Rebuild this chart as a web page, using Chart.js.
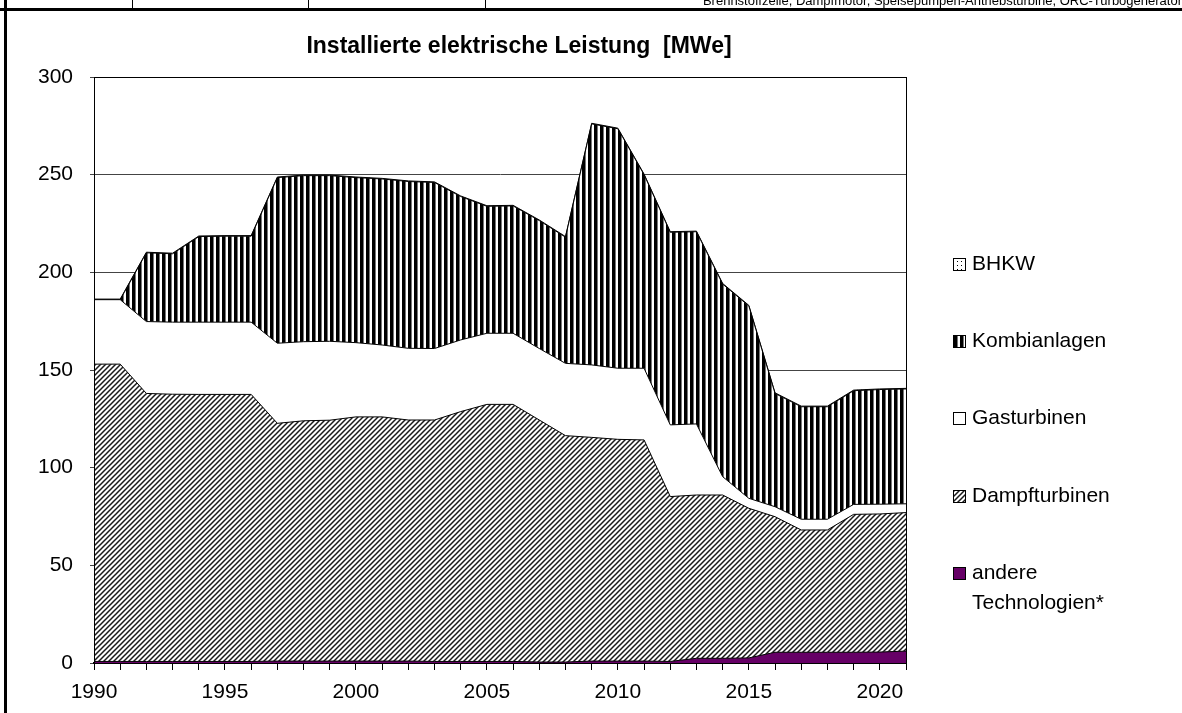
<!DOCTYPE html>
<html lang="de">
<head>
<meta charset="utf-8">
<title>Installierte elektrische Leistung</title>
<script src="https://cdn.jsdelivr.net/npm/chart.js@4/dist/chart.umd.min.js"></script>
<style>
  html, body { margin: 0; padding: 0; background: #fff; }
  #wrap { width: 1182px; height: 713px; }
</style>
</head>
<body>
<div id="wrap"><canvas id="chart" width="1182" height="713"></canvas></div>
<script>
// Jahre und installierte Leistung je Technologie in MWe
const years = [1990, 1991, 1992, 1993, 1994, 1995, 1996, 1997, 1998, 1999,
  2000, 2001, 2002, 2003, 2004, 2005, 2006, 2007, 2008, 2009,
  2010, 2011, 2012, 2013, 2014, 2015, 2016, 2017, 2018, 2019, 2020, 2021];

const andere = [0.8, 0.8, 0.8, 0.8, 0.8, 0.8, 0.8, 1, 1, 1,
  1, 1, 1, 0.8, 0.8, 0.8, 0.8, 0.5, 0.5, 1,
  1, 1, 0.8, 2.4, 2.4, 2.6, 5.5, 5.5, 5.5, 5.5, 5.6, 6.1];

const dampfturbinen = [152.2, 152.2, 137.2, 136.8, 136.7, 136.7, 136.7, 121.7, 123, 123.3,
  125, 125, 123.4, 123.6, 127.9, 131.6, 131.6, 123.9, 115.9, 114.5,
  113.5, 113.2, 84.4, 83.6, 83.6, 76.6, 69.4, 62.6, 62.6, 70.6, 70.7, 70.9];

const gasturbinen = [33, 33, 36.8, 36.9, 37, 37, 37, 41, 40.5, 40.4,
  38, 36.8, 36.7, 36.6, 36.7, 36.4, 36.4, 36.6, 37, 37.1,
  36.4, 36.7, 36.7, 36.4, 9.4, 5.1, 5.1, 5.5, 5.5, 5.1, 5, 4.5];

const kombianlagen = [0, 0, 35.2, 35, 43.8, 44, 44, 84.8, 85, 84.8,
  84.5, 85, 85.4, 85, 73.4, 65, 65.2, 65.5, 64.6, 123.4,
  122.6, 99.1, 98.6, 98.4, 98.6, 98.5, 58, 57.6, 57.6, 58.2, 58.7, 58.8];

const bhkw = [0.3, 0.3, 0.3, 0.3, 0.3, 0.3, 0.3, 0.3, 0.3, 0.3,
  0.3, 0.3, 0.3, 0.3, 0.3, 0.3, 0.3, 0.3, 0.3, 0.3,
  0.3, 0.3, 0.3, 0.3, 0.3, 0.3, 0.3, 0.3, 0.3, 0.3, 0.3, 0.3];

const yTicks = [0, 50, 100, 150, 200, 250, 300];

const FONT = '"Liberation Sans", Arial, sans-serif';

// Schraffuren als Canvas-Muster
function makePattern(size, draw) {
  const c = document.createElement('canvas');
  c.width = size; c.height = size;
  const g = c.getContext('2d');
  g.fillStyle = '#fff';
  g.fillRect(0, 0, size, size);
  draw(g, size);
  return g.createPattern(c, 'repeat');
}

const ctx = document.getElementById('chart').getContext('2d');

const hatchDiag = makePattern(5, (g, s) => {
  g.strokeStyle = '#1a1a1a';
  g.lineWidth = 1.5;
  g.beginPath();
  g.moveTo(-1, s + 1); g.lineTo(s + 1, -1);
  g.moveTo(-1, 1); g.lineTo(1, -1);
  g.moveTo(s - 1, s + 1); g.lineTo(s + 1, s - 1);
  g.stroke();
});

const stripesVert = makePattern(6, (g, s) => {
  g.fillStyle = '#000';
  g.fillRect(0, 0, 3, s);
  g.fillStyle = '#777';
  g.fillRect(3, 0, 1, s);
});

const dots = makePattern(4, (g) => {
  g.fillStyle = '#000';
  g.fillRect(1, 1, 1, 1);
});

const series = [
  { label: 'andere Technologien*', data: andere, fill: 'origin', bg: '#660066' },
  { label: 'Dampfturbinen', data: dampfturbinen, fill: '-1', bg: hatchDiag },
  { label: 'Gasturbinen', data: gasturbinen, fill: '-1', bg: '#ffffff' },
  { label: 'Kombianlagen', data: kombianlagen, fill: '-1', bg: stripesVert },
  { label: 'BHKW', data: bhkw, fill: '-1', bg: dots }
];

// Tabellenkopf oberhalb, Titel, Rahmen und Legende
const decorations = {
  id: 'decorations',
  afterDraw(chart) {
    const c = chart.ctx;
    const a = chart.chartArea;
    c.save();

    // Rahmen des Diagrammbereichs
    c.strokeStyle = '#000';
    c.lineWidth = 1;
    c.strokeRect(a.left + 0.5, a.top + 0.5, a.right - a.left, a.bottom - a.top);

    // Tabellenzeile am oberen Rand
    c.fillStyle = '#000';
    c.fillRect(0, 8, 1182, 3);
    c.fillRect(4, 0, 3, 713);
    [132, 308, 485].forEach(x => c.fillRect(x, 0, 1, 8));
    c.font = '13px ' + FONT;
    c.textAlign = 'right';
    c.textBaseline = 'alphabetic';
    c.fillText('Brennstoffzelle, Dampfmotor, Speisepumpen-Antriebsturbine, ORC-Turbogenerator', 1182, 5);

    // Titel
    c.font = 'bold 23px ' + FONT;
    c.textAlign = 'center';
    c.textBaseline = 'middle';
    c.fillText('Installierte elektrische Leistung  [MWe]', 519, 47);

    // Legende, oberster Stapel zuerst
    const items = [
      { lines: ['BHKW'], bg: dots, y: 264 },
      { lines: ['Kombianlagen'], bg: stripesVert, y: 341 },
      { lines: ['Gasturbinen'], bg: '#ffffff', y: 418 },
      { lines: ['Dampfturbinen'], bg: hatchDiag, y: 496 },
      { lines: ['andere', 'Technologien*'], bg: '#660066', y: 573 }
    ];
    c.font = '21px ' + FONT;
    c.textAlign = 'left';
    items.forEach(it => {
      c.fillStyle = it.bg;
      c.fillRect(953, it.y - 6, 13, 13);
      c.strokeStyle = '#000';
      c.lineWidth = 1;
      c.strokeRect(953.5, it.y - 5.5, 12, 12);
      c.fillStyle = '#000';
      it.lines.forEach((t, i) => c.fillText(t, 972, it.y + i * 30));
    });
    c.restore();
  }
};

new Chart(ctx, {
  type: 'line',
  data: {
    labels: years,
    datasets: series.map(s => ({
      label: s.label,
      data: s.data,
      fill: s.fill,
      backgroundColor: s.bg,
      borderColor: '#000',
      borderWidth: 1,
      pointRadius: 0,
      tension: 0
    }))
  },
  options: {
    responsive: false,
    animation: false,
    layout: { padding: { left: 0, top: 77, right: 276, bottom: 0 } },
    plugins: {
      legend: { display: false },
      title: { display: false },
      tooltip: { enabled: false }
    },
    scales: {
      x: {
        type: 'category',
        offset: false,
        border: { color: '#000', width: 2 },
        grid: { drawOnChartArea: false, drawTicks: true, tickLength: 7, color: '#000' },
        ticks: {
          autoSkip: false,
          maxRotation: 0,
          padding: 10,
          color: '#000',
          font: { family: FONT, size: 21 },
          callback: (v, i) => (years[i] % 5 === 0 ? String(years[i]) : '')
        },
        afterFit: s => { s.height = 50; }
      },
      y: {
        stacked: true,
        min: 0,
        max: 300,
        border: { color: '#000', width: 1 },
        grid: { color: '#444', lineWidth: 1, drawTicks: true, tickLength: 4 },
        afterBuildTicks: s => { s.ticks = yTicks.map(v => ({ value: v })); },
        ticks: {
          padding: 17,
          color: '#000',
          font: { family: FONT, size: 21 }
        },
        afterFit: s => { s.width = 94; }
      }
    }
  },
  plugins: [decorations]
});
</script>
</body>
</html>
